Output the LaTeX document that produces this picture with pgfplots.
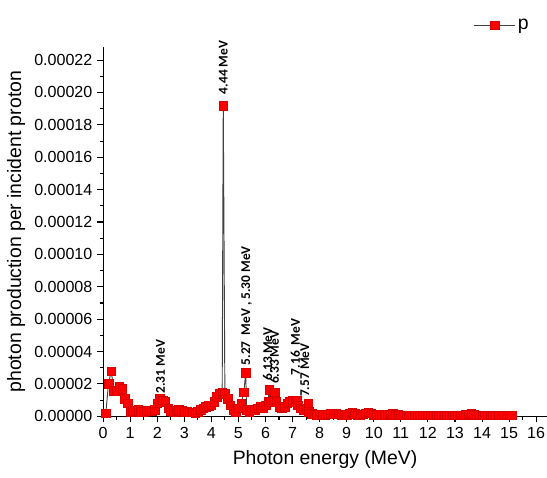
\documentclass[border=0pt]{standalone}
\usepackage{pgfplots}
\pgfplotsset{compat=1.18}
\usepackage{pgfplotstable}
\usepackage{fontspec}
\setmainfont{Liberation Sans}
\newfontfamily\annfont{Carlito}

% photon energy (MeV), yield per incident proton
\pgfplotstableread{
E v
0.1 0.2e-5
0.2 2.0e-5
0.3 2.8e-5
0.4 1.6e-5
0.5 1.6e-5
0.6 1.85e-5
0.7 1.7e-5
0.8 1.1e-5
0.9 0.8e-5
1.0 0.3e-5
1.1 0.35e-5
1.2 0.35e-5
1.3 0.4e-5
1.4 0.3e-5
1.5 0.3e-5
1.6 0.35e-5
1.7 0.35e-5
1.8 0.35e-5
1.9 0.4e-5
2.0 0.8e-5
2.1 1.1e-5
2.2 1.0e-5
2.3 0.9e-5
2.4 0.5e-5
2.5 0.35e-5
2.6 0.3e-5
2.7 0.35e-5
2.8 0.4e-5
2.9 0.35e-5
3.0 0.3e-5
3.1 0.3e-5
3.2 0.25e-5
3.3 0.25e-5
3.4 0.2e-5
3.5 0.3e-5
3.6 0.4e-5
3.7 0.5e-5
3.8 0.6e-5
3.9 0.65e-5
4.0 0.7e-5
4.1 0.9e-5
4.2 1.2e-5
4.3 1.4e-5
4.4 1.45e-5
4.44 19.2e-5
4.5 1.4e-5
4.6 1.1e-5
4.7 0.7e-5
4.8 0.4e-5
4.9 0.3e-5
5.0 0.5e-5
5.1 0.8e-5
5.2 1.5e-5
5.27 2.7e-5
5.3 0.4e-5
5.4 0.3e-5
5.5 0.4e-5
5.6 0.4e-5
5.7 0.5e-5
5.8 0.6e-5
5.9 0.5e-5
6.0 0.7e-5
6.1 0.9e-5
6.13 1.65e-5
6.2 0.9e-5
6.3 1.0e-5
6.33 1.5e-5
6.4 0.9e-5
6.5 0.6e-5
6.6 0.5e-5
6.7 0.6e-5
6.8 0.8e-5
6.9 0.9e-5
7.0 1.0e-5
7.1 0.9e-5
7.16 1.0e-5
7.2 0.7e-5
7.3 0.5e-5
7.4 0.4e-5
7.5 0.5e-5
7.57 0.8e-5
7.6 0.3e-5
7.7 0.15e-5
7.8 0.12e-5
7.9 0.1e-5
8.0 0.1e-5
8.1 0.1e-5
8.2 0.1e-5
8.3 0.12e-5
8.4 0.15e-5
8.5 0.2e-5
8.6 0.15e-5
8.7 0.12e-5
8.8 0.1e-5
8.9 0.1e-5
9.0 0.1e-5
9.1 0.2e-5
9.2 0.25e-5
9.3 0.15e-5
9.4 0.1e-5
9.5 0.1e-5
9.6 0.12e-5
9.7 0.2e-5
9.8 0.25e-5
9.9 0.2e-5
10.0 0.1e-5
10.1 0.1e-5
10.2 0.1e-5
10.3 0.1e-5
10.4 0.1e-5
10.5 0.1e-5
10.6 0.12e-5
10.7 0.15e-5
10.8 0.1e-5
10.9 0.1e-5
11.0 0.08e-5
11.1 0.08e-5
11.2 0.08e-5
11.3 0.08e-5
11.4 0.08e-5
11.5 0.08e-5
11.6 0.08e-5
11.7 0.08e-5
11.8 0.08e-5
11.9 0.08e-5
12.0 0.08e-5
12.1 0.08e-5
12.2 0.08e-5
12.3 0.08e-5
12.4 0.08e-5
12.5 0.08e-5
12.6 0.08e-5
12.7 0.08e-5
12.8 0.08e-5
12.9 0.08e-5
13.0 0.08e-5
13.1 0.08e-5
13.2 0.08e-5
13.3 0.08e-5
13.4 0.1e-5
13.5 0.12e-5
13.6 0.2e-5
13.7 0.1e-5
13.8 0.08e-5
13.9 0.08e-5
14.0 0.08e-5
14.1 0.08e-5
14.2 0.08e-5
14.3 0.08e-5
14.4 0.08e-5
14.5 0.08e-5
14.6 0.08e-5
14.7 0.08e-5
14.8 0.08e-5
14.9 0.08e-5
15.0 0.08e-5
15.1 0.08e-5
}\yielddata

\begin{document}
\begin{tikzpicture}
% page frame with the reference's proportions (axis origin at 0,0)
\useasboundingbox (-77pt,-45.6pt) rectangle (331.6pt,311pt);
\begin{axis}[
    scale only axis,
    width=331.6pt, height=275.8pt,
    xmin=0, xmax=16.4,
    ymin=0, ymax=0.000228,
    axis lines=left,
    axis line style={-, line width=0.8pt},
    xtick={0,1,...,16},
    minor x tick num=1,
    ytick={0,0.00002,...,0.00022},
    minor y tick num=1,
    tick align=outside,
    major tick length=4.5pt,
    minor tick length=2.5pt,
    tick style={black, line width=0.8pt},
    scaled y ticks=false,
    yticklabel style={/pgf/number format/.cd, fixed, fixed zerofill, precision=5},
    /pgf/number format/assume math mode=true,
    tick label style={font=\fontsize{12}{14}\selectfont},
    label style={font=\fontsize{14.5}{17}\selectfont},
    xlabel={Photon energy (MeV)},
    ylabel={photon production per incident proton},
    xlabel style={yshift=-2pt},
    legend style={at={(0.9,1.059)}, anchor=center, draw=none, fill=none,
        font=\fontsize{14.5}{17}\selectfont},
    legend image code/.code={
        \draw[mark repeat=2, mark phase=2] plot coordinates {(0pt,0pt) (15pt,0pt) (30pt,0pt)};},
    legend cell align=left,
    clip=false,
]
\addplot[color=black!75, line width=0.7pt, mark=square*,
    mark size=3.2pt, mark options={draw=red!85!black, fill=red, line width=0.3pt}]
    table[x=E, y=v] {\yielddata};
\addlegendentry{p}

\begin{scope}[every node/.style={rotate=90, anchor=west, inner sep=1pt,
    font=\annfont\bfseries\fontsize{10}{11}\selectfont}]
\node at (axis cs:4.44,0.000198) {4.44 MeV};
\node at (axis cs:2.12,0.0000132) {2.31 MeV};
\node at (axis cs:5.30,0.0000305) {5.27\ \ MeV , 5.30 MeV};
\node at (axis cs:6.08,0.0000210) {6.13 MeV};
\node at (axis cs:6.33,0.0000190) {6.33 MeV};
\node at (axis cs:7.10,0.0000245) {7.16\ \ MeV};
\node at (axis cs:7.45,0.0000110) {7.57 MeV};
\end{scope}
\end{axis}
\end{tikzpicture}
\end{document}
